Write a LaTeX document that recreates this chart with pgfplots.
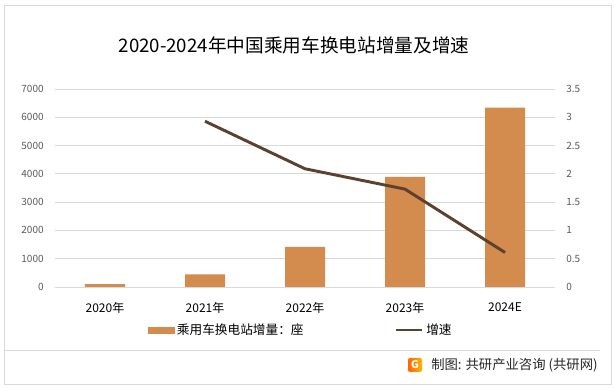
\documentclass[border=0pt]{standalone}
\usepackage{pgfplots}
\pgfplotsset{compat=1.18}
\usepackage{fontspec}
\setmainfont{Noto Sans CJK SC}
\definecolor{barc}{HTML}{D48B4E}
\definecolor{linec}{HTML}{5B4130}
\definecolor{gridc}{HTML}{D9D9D9}
\definecolor{tickc}{HTML}{595959}
\begin{document}
\begin{tikzpicture}[x=0.75pt,y=0.75pt]
\path (0,0) rectangle (615,389);
\draw[gridc,line width=0.6pt] (4,5) rectangle (611,384);
\node[font=\fontsize{14}{16}\selectfont] at (294,344) {2020-2024年中国乘用车换电站增量及增速};
\begin{axis}[
  at={(41.25pt,76.5pt)}, anchor=south west,
  scale only axis, width=375pt, height=148.5pt,
  xmin=-0.5, xmax=4.5, ymin=0, ymax=7000,
  ytick={0,1000,...,7000},
  xtick={0,1,2,3,4},
  xticklabels={2020年,2021年,2022年,2023年,2024E},
  axis line style={draw=none}, major tick length=0pt,
  ymajorgrids, grid style={gridc, line width=0.6pt},
  /pgf/number format/assume math mode=true,
  /pgf/number format/1000 sep={},
  yticklabel style={font=\fontsize{7.5}{9}\selectfont, text=tickc, xshift=-5pt},
  xticklabel style={font=\fontsize{9}{11}\selectfont, text=black, anchor=center, yshift=-15.5pt},
  ]
\addplot[ybar, bar width=30pt, fill=barc, draw=none] coordinates {(0,100) (1,450) (2,1420) (3,3890) (4,6340)};
\end{axis}
\begin{axis}[
  at={(41.25pt,76.5pt)}, anchor=south west,
  scale only axis, width=375pt, height=148.5pt,
  xmin=-0.5, xmax=4.5, ymin=0, ymax=3.5,
  ytick={0,0.5,...,3.5},
  axis x line=none, axis y line*=right,
  axis line style={draw=none}, major tick length=0pt,
  /pgf/number format/assume math mode=true,
  yticklabel style={font=\fontsize{7.5}{9}\selectfont, text=tickc, xshift=5pt},
  legend columns=2,
  legend style={draw=none, fill=none, at={(0.492,-0.217)}, anchor=center,
    font=\fontsize{9.5}{11}\selectfont, /tikz/every even column/.append style={column sep=66pt},
    inner sep=0pt},
  ]
\addlegendimage{legend image code/.code={\fill[barc] (0pt,-2.3pt) rectangle (19.5pt,2.3pt);}}
\addlegendentry{乘用车换电站增量：座}
\addplot[linec, line width=2.2pt, legend image code/.code={\draw[linec,line width=2pt] (0pt,0pt) -- (20pt,0pt);}] coordinates {(1,2.93) (2,2.09) (3,1.73) (4,0.61)};
\addlegendentry{增速}
\end{axis}
\draw[gridc,line width=0.6pt] (4,39) -- (600,39);
\shade[left color=orange!80!red, right color=orange!60!yellow, rounded corners=1.5pt] (408,17) rectangle (422,31);
\node[text=white, font=\bfseries\fontsize{8}{8}\selectfont, inner sep=0pt] at (415,24) {G};
\node[anchor=west, font=\fontsize{10}{12}\selectfont, text=black!85, inner sep=0pt] at (431,24) {制图: 共研产业咨询 (共研网)};
\end{tikzpicture}
\end{document}
